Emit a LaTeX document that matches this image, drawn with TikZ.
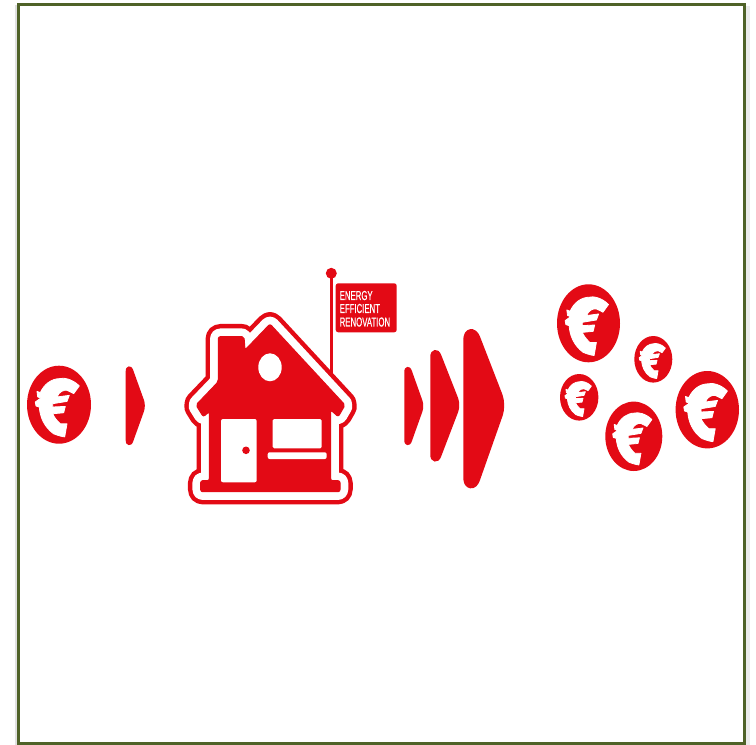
\documentclass[tikz,border=0pt]{standalone}
\usepackage{fontspec}
\setmainfont{Liberation Sans}
\newfontfamily\flagfont[FakeBold=0.6]{Liberation Sans}
\definecolor{brandred}{HTML}{E30A15}
\definecolor{framegreen}{HTML}{4F6228}
\tikzset{
  flagtext/.style={text=white,anchor=west,inner sep=0pt,font=\flagfont\fontsize{13}{13}\selectfont},
  wedge/.style={fill=brandred,draw=brandred,line join=round},
}
% centre x, centre y, half width, half height
\newcommand{\eurocoin}[4]{%
  \fill[brandred] (#1,#2) ellipse [x radius=#3, y radius=#4];
  \begin{scope}[shift={(#1,#2)},xscale=#3/32,yscale=#4/38.8]
    \filldraw[white,line width=0.8pt,line join=round]
      (20.3,-18.7) .. controls (13,-26) and (4,-27) .. (1.3,-26)
      .. controls (-8,-26) and (-15,-20) .. (-18.7,-12)
      -- (-22,-13.3) -- (-21.3,-7.7) -- (-18,-6.7)
      -- (-23.7,-2.7) -- (-23,1.3) -- (-19.7,2.3)
      .. controls (-19,12) and (-15,22) .. (-5.3,29)
      .. controls (0,31) and (4,32) .. (5.7,32)
      -- (8,19) -- (1.3,19)
      .. controls (-3,15) and (-5,12) .. (-6.3,9)
      -- (4.7,8) -- (6.3,1.7) -- (-6.3,2.3) -- (-6.3,-1)
      -- (8,-3.3) -- (10.3,-9.3) -- (-2,-7.7)
      .. controls (0,-13) and (5,-15) .. (8,-14.3)
      .. controls (11,-13) and (13,-12) .. (14.7,-11)
      -- cycle;
  \end{scope}
}
\begin{document}
\begin{tikzpicture}[x=1pt,y=-1pt]
\useasboundingbox (0,0) rectangle (756,745);
% frame and its soft shadow
\fill[white] (0,0) rectangle (756,745);
\fill[black!12] (15,5) rectangle (17,745);
\fill[black!8] (746,6) rectangle (750,745);
\draw[framegreen,line width=3pt] (18.5,746) -- (18.5,4.5) -- (744.5,4.5) -- (744.5,746);
\draw[framegreen,line width=3pt] (17,743.7) -- (746,743.7);

% coins
\eurocoin{59}{404.7}{32}{39}
\eurocoin{588.5}{323.3}{31.5}{39}
\eurocoin{653.3}{359.3}{19}{23.3}
\eurocoin{579.2}{397.3}{19.2}{23.3}
\eurocoin{633.8}{436.3}{28.5}{34.7}
\eurocoin{707.3}{409.7}{31.7}{38.7}

% wedges
\draw[wedge,line width=6pt,rounded corners=5pt] (128.7,366.5) -- (128.7,445) -- (142.8,405.7) -- cycle;
\draw[wedge,line width=6pt,rounded corners=5pt] (407.3,367) -- (407.3,445) -- (421.2,406) -- cycle;
\draw[wedge,line width=9pt,rounded corners=6pt] (434.8,351) -- (434.8,460.5) -- (456,405) -- cycle;
\draw[wedge,line width=14pt,rounded corners=9pt] (470.3,331) -- (470.3,486.5) -- (499,405) -- cycle;

% house: silhouette with ring
\def\housepath{(218.3,336.7) -- (244,336.7) -- (245,350) -- (270,324) -- (345,405) -- (338.3,416.7) -- (330.7,410) -- (330.7,480.7) -- (340,480.7) -- (340,491.7) -- (200.7,491.7) -- (200.7,480.7) -- (209.3,480.7) -- (209.3,411.7) -- (203.3,416.7) -- (196,405) -- (218.3,381.7) -- cycle}
\draw[brandred,line width=25.5pt,line join=round,rounded corners=2pt] \housepath;
\draw[white,line width=16.5pt,line join=round,rounded corners=2pt] \housepath;
\fill[brandred,draw=brandred,line width=1pt,line join=round,rounded corners=2pt] \housepath;

% flag pole and flag
\fill[brandred] (331.3,273.3) circle [radius=5.5];
\draw[brandred,line width=2.6pt] (331.3,273.3) -- (331.3,374);
\fill[brandred,rounded corners=2.5pt] (335.7,283.3) rectangle (396.7,332.3);
\node[flagtext] (l1) at (339.5,295.5) {\scalebox{.6}[1]{ENERGY}};
\node[flagtext] (l2) at (339.5,308.5) {\scalebox{.6}[1]{EFFICIENT}};
\node[flagtext] (l3) at (339.5,322) {\scalebox{.6}[1]{RENOVATION}};

% house details
\fill[white] (270,367.3) ellipse [x radius=11.7, y radius=14];
\fill[white,rounded corners=2pt] (221,419) rectangle (256.7,482.3);
\fill[brandred] (246,450.3) circle [radius=3.8];
\fill[white,rounded corners=1.5pt] (272.7,419) rectangle (321.7,448.3);
\fill[white,rounded corners=2pt] (267.7,452.3) rectangle (326.7,459);
\end{tikzpicture}
\end{document}
